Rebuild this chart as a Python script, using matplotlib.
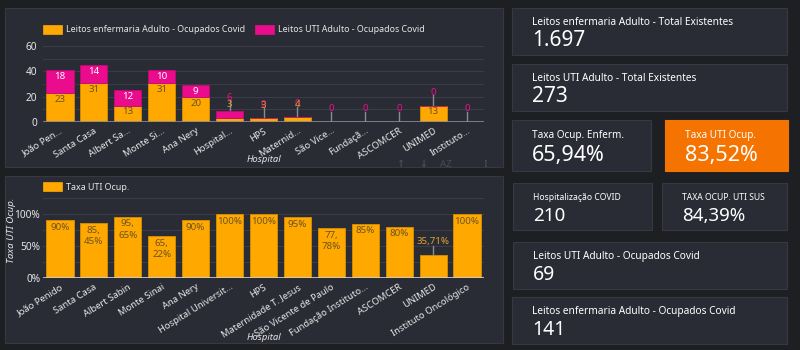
import matplotlib
matplotlib.use("Agg")
import matplotlib.pyplot as plt
from matplotlib.patches import Rectangle
import numpy as np

plt.rcParams['font.family'] = ['Noto Sans', 'DejaVu Sans']

# ---- data ----
hosp_short = ['João Pen…', 'Santa Casa', 'Albert Sa…', 'Monte Si…', 'Ana Nery', 'Hospital…',
              'HPS', 'Maternid…', 'São Vice…', 'Fundaçã…', 'ASCOMCER', 'UNIMED', 'Instituto…']
hosp_full = ['João Penido', 'Santa Casa', 'Albert Sabin', 'Monte Sinai', 'Ana Nery',
             'Hospital Universit…', 'HPS', 'Maternidade T. Jesus', 'São Vicente de Paulo',
             'Fundação Instituto…', 'ASCOMCER', 'UNIMED', 'Instituto Oncológico']
enf_ocup = [23, 31, 13, 31, 20, 3, 3, 4, 0, 0, 0, 13, 0]
uti_ocup = [18, 14, 12, 10, 9, 6, 0, 0, 0, 0, 0, 0, 0]
taxa_uti = [90, 85.45, 95.65, 65.22, 90, 100, 100, 95, 77.78, 85, 80, 35.71, 100]

cards = [
    # title, value, box (x0, y0, x1, y1) in px, title size, value size, face
    ('Leitos enfermaria Adulto - Total Existentes', '1.697', (512, 8, 787, 55), 7.3, 15, None),
    ('Leitos UTI Adulto - Total Existentes', '273', (512, 64, 787, 111), 7.3, 15, None),
    ('Taxa Ocup. Enferm.', '65,94%', (512, 120, 651, 171), 7.2, 15.5, None),
    ('Taxa UTI Ocup.', '83,52%', (665, 120, 788, 171), 7.2, 15.5, '#f57300'),
    ('Hospitalização COVID', '210', (513, 183, 652, 230), 6.2, 13.5, None),
    ('TAXA OCUP. UTI SUS', '84,39%', (662, 183, 787, 230), 6.2, 13.5, None),
    ('Leitos UTI Adulto - Ocupados Covid', '69', (513, 242, 787, 289), 7.3, 14, None),
    ('Leitos enfermaria Adulto - Ocupados Covid', '141', (512, 297, 787, 344), 7.3, 14, None),
]

BG = '#1e1f23'
PANEL = '#2a2c35'
EDGE = '#363842'
ORANGE = '#ffa800'
PINK = '#ea0c8c'
TXT = '#e6e6e6'
DARK_LBL = '#6b5421'
W, H = 800, 350

fig = plt.figure(figsize=(8, 3.5), dpi=100, facecolor=BG)


def box(x0, y0, x1, y1):
    return x0 / W, 1 - y1 / H, (x1 - x0) / W, (y1 - y0) / H


def panel(x0, y0, x1, y1, face=PANEL):
    l, b, w, h = box(x0, y0, x1, y1)
    fig.patches.append(Rectangle((l, b), w, h, transform=fig.transFigure,
                                 facecolor=face, edgecolor=EDGE if face == PANEL else face,
                                 lw=0.8, zorder=-5))


def swatch(x0, y0, x1, y1, col):
    l, b, w, h = box(x0, y0, x1, y1)
    fig.patches.append(Rectangle((l, b), w, h, transform=fig.transFigure,
                                 facecolor=col, edgecolor=col, lw=0.5, zorder=2))


def ftext(x, y, s, **kw):
    fig.text(x / W, 1 - y / H, s, **kw)


# panels of the two charts
panel(5, 8, 503, 167)
panel(5, 176, 503, 343)

# ---- top chart: stacked bars ----
ax1 = fig.add_axes(box(43, 46, 484, 122))
ax1.set_facecolor('none')
x = np.arange(len(hosp_short))
enf = np.array(enf_ocup)
uti = np.array(uti_ocup)
ax1.bar(x, enf, width=0.8, color=ORANGE, edgecolor='#d98f00', lw=0.6, zorder=3)
ax1.bar(x, uti, bottom=enf, width=0.8, color=PINK, edgecolor='#c00a74', lw=0.6, zorder=3)
ax1.set_xlim(-0.5, len(x) - 0.5)
ax1.set_ylim(0, 60)
ax1.set_yticks([0, 20, 40, 60])
ax1.set_yticks([10, 30, 50], minor=True)
ax1.grid(axis='y', which='both', color='#3b3d47', lw=0.7, zorder=0)
ax1.tick_params(axis='both', which='both', length=0, colors=TXT, labelsize=7.3, pad=4)
ax1.tick_params(axis='x', pad=3)
ax1.set_xticks(x)
ax1.set_xticklabels(hosp_short, rotation=32, ha='right', rotation_mode='anchor', fontsize=6.8)
for s in ax1.spines.values():
    s.set_visible(False)
ax1.axhline(0, color='#8a8c94', lw=1.2, zorder=4)

for i in x:
    e, u = enf[i], uti[i]
    top = e + u
    if e >= 8:
        ax1.text(i, e - 1.5, str(e), ha='center', va='top', fontsize=7, color=DARK_LBL, zorder=5)
    if u >= 8:
        ax1.text(i, top - 1.5, str(u), ha='center', va='top', fontsize=7, color='white', zorder=5)
    out_u = u < 8
    out_e = e < 8 and e > 0
    if out_u or out_e:
        ax1.plot([i, i], [top, top + 8], color='#8a8c94', lw=1, zorder=2)
    if out_u:
        ax1.text(i, top + 10.5, str(u), ha='center', va='center', fontsize=7, color=PINK, zorder=5)
    if out_e:
        ye = top + 4.5 if u > 0 else top + 10
        ax1.text(i, ye, str(e), ha='center', va='center', fontsize=7, color='#d89a1e', zorder=5)

ftext(264, 162, 'Hospital', ha='center', va='baseline', fontsize=6.8, style='italic', color=TXT)

# legend of the top chart
for (bx, col, lab) in [(43, ORANGE, 'Leitos enfermaria Adulto - Ocupados Covid'),
                       (255, PINK, 'Leitos UTI Adulto - Ocupados Covid')]:
    swatch(bx, 25, bx + 19, 34, col)
    ftext(bx + 23, 29.5, lab, ha='left', va='center', fontsize=6.4, color=TXT)

# faint toolbar icons
for ix, s in [(400, '↑'), (423, '↓'), (446, 'AZ'), (486, '⋮')]:
    ftext(ix, 164, s, ha='center', va='center', fontsize=7, color='#4a4c56', fontweight='bold')

# ---- bottom chart: ICU occupancy ----
ax2 = fig.add_axes(box(43, 198, 484, 278))
ax2.set_facecolor('none')
tx = np.array(taxa_uti)
ax2.bar(x, tx, width=0.8, color=ORANGE, edgecolor='#d98f00', lw=0.6, zorder=3)
ax2.set_xlim(-0.5, len(x) - 0.5)
ax2.set_ylim(0, 125)
ax2.set_yticks([0, 50, 100])
ax2.set_yticklabels(['0%', '50%', '100%'])
ax2.set_yticks([25, 75, 125], minor=True)
ax2.grid(axis='y', which='both', color='#3b3d47', lw=0.7, zorder=0)
ax2.tick_params(axis='both', which='both', length=0, colors=TXT, labelsize=7.3, pad=2)
ax2.tick_params(axis='x', pad=3)
ax2.set_xticks(x)
ax2.set_xticklabels(hosp_full, rotation=32, ha='right', rotation_mode='anchor', fontsize=6.8)
for s in ax2.spines.values():
    s.set_visible(False)
ax2.axhline(0, color='#d0d0d0', lw=1.2, zorder=4)


def fmt_pct(v, wrap):
    if float(v).is_integer():
        return f'{int(v)}%'
    a, b = f'{v:.2f}'.split('.')
    return f'{a},\n{b}%' if wrap else f'{a},{b}%'


for i in x:
    v = tx[i]
    if v >= 50:
        ax2.text(i, v - 4, fmt_pct(v, True), ha='center', va='top', fontsize=7,
                 color=DARK_LBL, linespacing=1.35, zorder=5)
    else:
        ax2.plot([i, i], [v, v + 14], color='#8a8c94', lw=1, zorder=2)
        ax2.text(i, v + 21, fmt_pct(v, False), ha='center', va='center', fontsize=7,
                 color='#e0a12a', zorder=5)

ftext(12, 230, 'Taxa UTI Ocup.', ha='center', va='center', rotation=90,
      fontsize=7, style='italic', color=TXT)
ftext(264, 340, 'Hospital', ha='center', va='baseline', fontsize=6.8, style='italic', color=TXT)

swatch(43, 182, 62, 191, ORANGE)
ftext(66, 187, 'Taxa UTI Ocup.', ha='left', va='center', fontsize=6.4, color=TXT)

# ---- score cards ----
for title, value, (x0, y0, x1, y1), ts, vs, face in cards:
    panel(x0, y0, x1, y1, face=face if face else PANEL)
    hgt = y1 - y0
    tx0 = x0 + 20
    ftext(tx0, y0 + hgt * 0.36, title, ha='left', va='baseline', fontsize=ts, color='white')
    ftext(tx0, y0 + hgt * 0.80, value, ha='left', va='baseline', fontsize=vs, color='white')

fig.savefig('out.png', dpi=100, facecolor=BG)
